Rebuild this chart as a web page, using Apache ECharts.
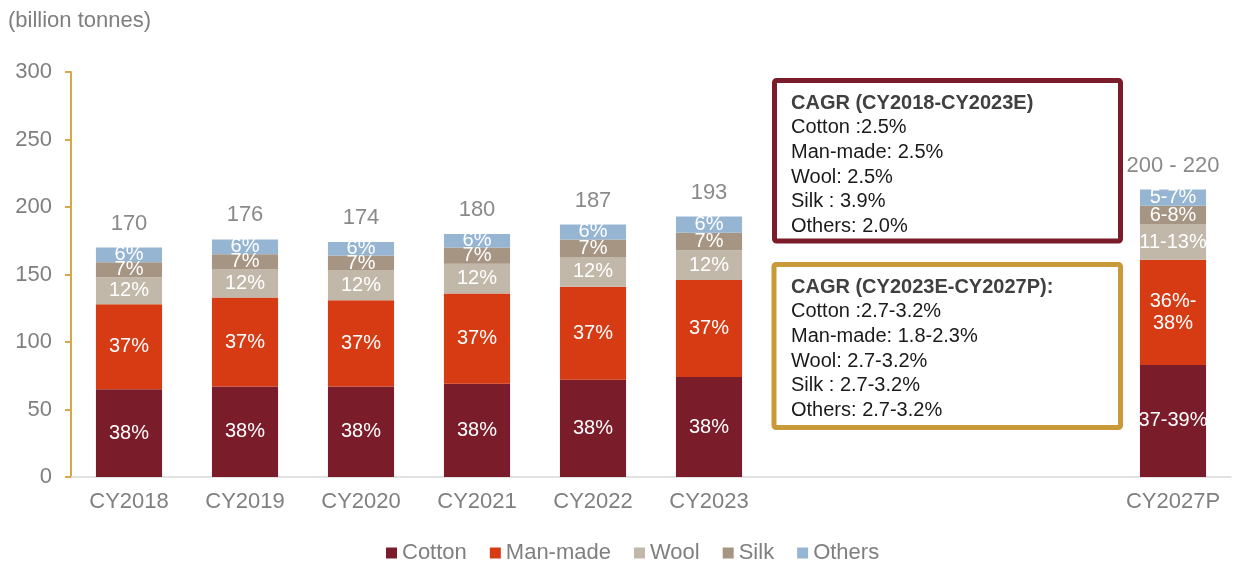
<!DOCTYPE html>
<html><head><meta charset="utf-8">
<script src="https://cdn.jsdelivr.net/npm/echarts@6/dist/echarts.min.js"></script>
<style>html,body{margin:0;padding:0;background:#fff}#c{width:1234px;height:562px}</style>
</head><body><div id="c"></div>
<script>
const categories = ['CY2018','CY2019','CY2020','CY2021','CY2022','CY2023','','','','CY2027P'];
const cotton   = [65, 67, 67, 69, 72, 74, '-', '-', '-', 83];
const manmade  = [63, 66, 64, 67, 69, 72, '-', '-', '-', 78];
const wool     = [20, 21, 22, 22, 22, 22, '-', '-', '-', 26];
const silk     = [11, 11, 11, 12, 13, 13, '-', '-', '-', 14];
const others   = [11, 11, 10, 10, 11, 12, '-', '-', '-', 12];
const cottonPct  = ['38%','38%','38%','38%','38%','38%','','','','37-39%'];
const manmadePct = ['37%','37%','37%','37%','37%','37%','','','','36%-\n38%'];
const woolPct    = ['12%','12%','12%','12%','12%','12%','','','','11-13%'];
const silkPct    = ['7%','7%','7%','7%','7%','7%','','','','6-8%'];
const othersPct  = ['6%','6%','6%','6%','6%','6%','','','','5-7%'];
const totalLabels = ['170','176','174','180','187','193','','','','200 - 220'];
const yTicks = [0, 50, 100, 150, 200, 250, 300];
const box1 = ['CAGR (CY2018-CY2023E)','Cotton :2.5%','Man-made: 2.5%','Wool: 2.5%','Silk : 3.9%','Others: 2.0%'];
const box2 = ['CAGR (CY2023E-CY2027P):','Cotton :2.7-3.2%','Man-made: 1.8-2.3%','Wool: 2.7-3.2%','Silk : 2.7-3.2%','Others: 2.7-3.2%'];

const FONT = 'Liberation Sans, Arial, sans-serif';
const colors = {Cotton:'#7B1C2A', 'Man-made':'#D63B14', Wool:'#C2B8AA', Silk:'#A69582', Others:'#95B5D2'};

function seg(name, data, pct) {
  return {
    name, type:'bar', stack:'s', data, barWidth:'57%',
    itemStyle:{color:colors[name]},
    label:{show:true, position:'inside', color:'#fff', fontSize:20, fontFamily:FONT,
      lineHeight:22, formatter:p=>pct[p.dataIndex]},
    emphasis:{disabled:true}
  };
}
const totals = categories.map((c,i)=> cotton[i]==='-' ? '-' : cotton[i]+manmade[i]+wool[i]+silk[i]+others[i]);

function boxText(lines){
  return lines.map((l,i)=> i===0 ? '{b|'+l+'}' : '{n|'+l+'}').join('\n');
}
const rich = {b:{fontSize:20, fontWeight:'bold', fill:'#404040', lineHeight:24.6, fontFamily:FONT},
              n:{fontSize:20, fill:'#1a1a1a', lineHeight:24.6, fontFamily:FONT}};

const chart = echarts.init(document.getElementById('c'));
chart.setOption({
  animation:false,
  grid:{left:71, right:3, top:72, bottom:85},
  legend:{
    data:['Cotton','Man-made','Wool','Silk','Others'],
    left:381, top:537, icon:'rect', itemWidth:11, itemHeight:11, itemGap:23,
    textStyle:{fontSize:22, color:'#7F7F7F', fontFamily:FONT}
  },
  xAxis:{
    type:'category', data:categories,
    axisLine:{lineStyle:{color:'#D9D9D9', width:1.5}},
    axisTick:{show:false},
    axisLabel:{fontSize:22, color:'#7F7F7F', fontFamily:FONT, margin:14, interval:0}
  },
  yAxis:{
    type:'value', min:0, max:300, interval:50,
    axisLine:{show:true, lineStyle:{color:'#D4A84B', width:2}},
    axisTick:{show:true, length:6, lineStyle:{color:'#D4A84B', width:2}},
    splitLine:{show:false},
    axisLabel:{fontSize:22, color:'#7F7F7F', fontFamily:FONT, margin:19,
      formatter:v=> yTicks.includes(v) ? String(v) : ''}
  },
  series:[
    seg('Cotton', cotton, cottonPct),
    seg('Man-made', manmade, manmadePct),
    seg('Wool', wool, woolPct),
    seg('Silk', silk, silkPct),
    seg('Others', others, othersPct),
    {
      name:'Total', type:'scatter', symbolSize:0,
      data: totals.map((t,i)=> t==='-' ? null : [i, t]),
      label:{show:true, position:'top', distance:13, fontSize:22, color:'#6B6B6B', fontFamily:FONT,
        formatter:p=>totalLabels[p.dataIndex]},
      emphasis:{disabled:true}, silent:true
    }
  ],
  graphic:[
    {type:'rect', shape:{x:774.5, y:80.5, width:346, height:160.5, r:2},
      style:{fill:'#fff', stroke:'#7B1C2A', lineWidth:5}},
    {type:'text', x:791, y:91, style:{text:boxText(box1), fontFamily:FONT, rich}},
    {type:'rect', shape:{x:774, y:264.5, width:346.5, height:163, r:2},
      style:{fill:'#fff', stroke:'#C99A3A', lineWidth:5}},
    {type:'text', x:791, y:275, style:{text:boxText(box2), fontFamily:FONT, rich}},
    {type:'text', x:8, y:10, style:{text:'(billion tonnes)', fontSize:22, fill:'#7F7F7F', fontFamily:FONT}}
  ]
});
</script></body></html>
